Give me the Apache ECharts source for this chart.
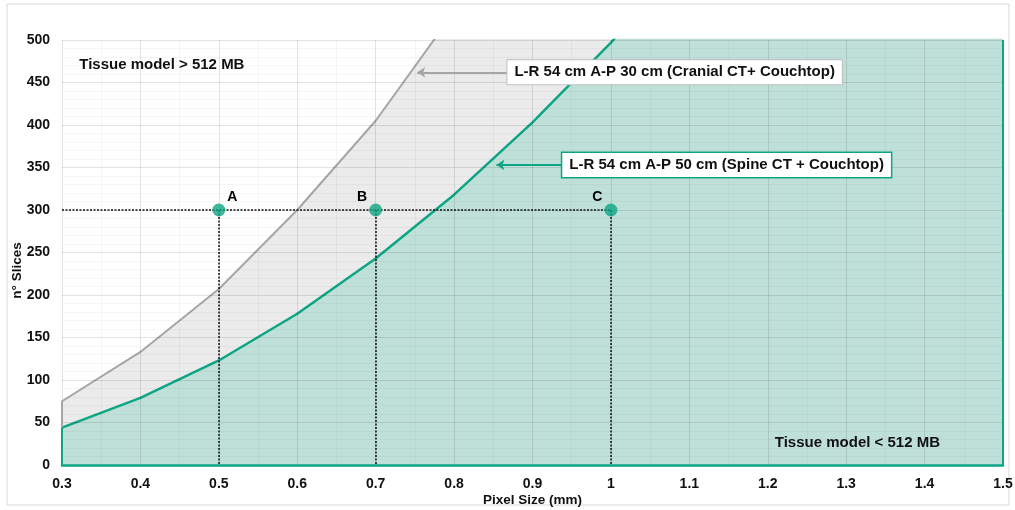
<!DOCTYPE html>
<html><head><meta charset="utf-8">
<script src="https://cdn.jsdelivr.net/npm/echarts@6/dist/echarts.min.js"></script>
<style>html,body{margin:0;padding:0;background:#fff}#c{width:1015px;height:510px}</style>
</head><body><div id="c"></div>
<script>
// ---- data ----
const pixelSizes    = [0.3, 0.4, 0.5, 0.6, 0.7, 0.8, 0.9, 1.0, 1.1, 1.2, 1.3, 1.4, 1.5];
const cranialSlices = [75, 133, 207, 300, 405, 533, 675, 833];
const spineSlices   = [44, 79, 123, 178, 243, 318, 403, 497, 600, 715, 840, 975, 1120];
const pointNames    = ['A', 'B', 'C'];
const pointSizes    = [0.5, 0.7, 1.0];
const pointSlices   = [300, 300, 300];
const cranialLabel  = 'L-R 54 cm A-P 30 cm (Cranial CT+ Couchtop)';
const spineLabel    = 'L-R 54 cm A-P 50 cm (Spine CT + Couchtop)';
const cranialArrow  = [[0.868, 462], [0.753, 462]];
const spineArrow    = [[0.938, 353], [0.854, 353]];
const regionLabels  = ['Tissue model > 512 MB', 'Tissue model < 512 MB'];
const regionAnchors = [[0.322, 471], [1.209, 26]];

const TEAL = '#0ea585', TEAL_FILL = '#bfe0d9', GRAY = '#a6a6a6', GRAY_FILL = '#ebebeb';
const FONT = '"Liberation Sans", Arial, sans-serif';
const xMin = pixelSizes[0], xMax = pixelSizes[pixelSizes.length - 1];

const chart = echarts.init(document.getElementById('c'));
const dotted = { color: '#111', width: 1.5, type: [2, 1.5] };

const option = {
  animation: false,
  grid: { left: 62, right: 12, top: 40, bottom: 45, containLabel: false, outerBoundsMode: 'none' },
  xAxis: {
    type: 'value', min: xMin, max: xMax, interval: 0.1, z: 3,
    name: 'Pixel Size (mm)', nameLocation: 'middle', nameGap: 28, nameMoveOverlap: false,
    nameTextStyle: { fontFamily: FONT, fontWeight: 'bold', fontSize: 13.5, color: '#111' },
    axisLine: { show: true, onZero: false, lineStyle: { color: TEAL, width: 2.5 } },
    axisTick: { show: false },
    axisLabel: { fontFamily: FONT, fontWeight: 'bold', fontSize: 14, color: '#111', margin: 12,
      formatter: v => String(Math.round(v * 10) / 10) },
    splitLine: { show: true, lineStyle: { color: 'rgba(0,0,0,0.11)', width: 1 } },
    minorTick: { show: false, splitNumber: 2 },
    minorSplitLine: { show: true, lineStyle: { color: 'rgba(0,0,0,0.035)', width: 1 } }
  },
  yAxis: {
    type: 'value', min: 0, max: 500, interval: 50, z: 3,
    name: 'n° Slices', nameLocation: 'middle', nameGap: 38, nameRotate: 90, nameMoveOverlap: false,
    nameTextStyle: { fontFamily: FONT, fontWeight: 'bold', fontSize: 13.5, color: '#111', padding: [0, 36, 0, 0] },
    axisLine: { show: false }, axisTick: { show: false },
    axisLabel: { fontFamily: FONT, fontWeight: 'bold', fontSize: 14, color: '#111', margin: 12 },
    splitLine: { show: true, lineStyle: { color: 'rgba(0,0,0,0.11)', width: 1 } },
    minorTick: { show: false, splitNumber: 5 },
    minorSplitLine: { show: true, lineStyle: { color: 'rgba(0,0,0,0.035)', width: 1 } }
  },
  series: [
    {
      name: 'cranial', type: 'line', z: 1, symbol: 'none', clip: true,
      data: cranialSlices.map((v, i) => [pixelSizes[i], v]),
      lineStyle: { color: GRAY, width: 2 },
      areaStyle: { color: GRAY_FILL, opacity: 1 },
      markLine: {
        silent: true, symbol: 'none', z: 5,
        lineStyle: { color: GRAY, width: 2, type: 'solid' }, label: { show: false },
        data: [
          [{ coord: cranialArrow[0], symbol: 'none' }, { coord: cranialArrow[1], symbol: 'arrow', symbolSize: 8 }],
          [{ coord: [xMin, spineSlices[0]] }, { coord: [xMin, cranialSlices[0]] }]
        ]
      }
    },
    {
      name: 'spine', type: 'line', z: 2, symbol: 'none', clip: true,
      data: spineSlices.map((v, i) => [pixelSizes[i], v]),
      lineStyle: { color: TEAL, width: 2.5 },
      areaStyle: { color: TEAL_FILL, opacity: 1 },
      markLine: {
        silent: true, symbol: 'none', z: 5,
        lineStyle: { color: TEAL, width: 2, type: 'solid' }, label: { show: false },
        data: [
          [{ coord: spineArrow[0], symbol: 'none' }, { coord: spineArrow[1], symbol: 'arrow', symbolSize: 8 }],
          [{ coord: [xMin, 0] }, { coord: [xMin, spineSlices[0]] }],
          [{ coord: [xMax, 0] }, { coord: [xMax, 500] }]
        ]
      }
    },
    {
      name: 'points', type: 'scatter', z: 10, symbolSize: 13,
      itemStyle: { color: TEAL },
      data: pointSizes.map((x, i) => ({
        value: [x, pointSlices[i]], name: pointNames[i],
        label: { show: true, formatter: pointNames[i], position: i === 0 ? 'right' : 'left',
          offset: i === 0 ? [-3, -13] : [3, -13],
          fontFamily: FONT, fontWeight: 'bold', fontSize: 14, color: '#000', opacity: 1 }
      })),
      markLine: {
        silent: true, symbol: 'none', z: 9, label: { show: false }, lineStyle: dotted,
        data: [[{ coord: [xMin, pointSlices[0]] }, { coord: [pointSizes[pointSizes.length - 1], pointSlices[0]] }]]
          .concat(pointSizes.map((x, i) => [{ coord: [x, pointSlices[i]] }, { coord: [x, 0] }]))
      }
    }
  ]
};
chart.setOption(option);

const p = c => chart.convertToPixel({ gridIndex: 0 }, c);
const textStyle = { fontFamily: FONT, fontWeight: 'bold', fontSize: 15, fill: '#111' };
const c1 = p(cranialArrow[0]), s1 = p(spineArrow[0]);
const r0 = p(regionAnchors[0]), r1 = p(regionAnchors[1]);
chart.setOption({
  graphic: [
    { type: 'rect', z: 0, shape: { x: 7, y: 4, width: 1002, height: 501 }, style: { fill: 'none', stroke: '#d9d9d9', lineWidth: 1 } },
    { type: 'text', z: 100, x: c1[0], y: c1[1], style: Object.assign({}, textStyle, {
      text: cranialLabel, align: 'left', verticalAlign: 'middle',
      backgroundColor: '#fff', borderColor: '#bfbfbf', borderWidth: 1, padding: [5, 7, 4, 7] }) },
    { type: 'text', z: 100, x: s1[0], y: s1[1], style: Object.assign({}, textStyle, {
      text: spineLabel, align: 'left', verticalAlign: 'middle',
      backgroundColor: '#fff', borderColor: TEAL, borderWidth: 1.5, padding: [5, 7, 4, 7] }) },
    { type: 'text', z: 100, x: r0[0], y: r0[1], style: Object.assign({}, textStyle, { text: regionLabels[0], verticalAlign: 'middle' }) },
    { type: 'text', z: 100, x: r1[0], y: r1[1], style: Object.assign({}, textStyle, { text: regionLabels[1], verticalAlign: 'middle' }) }
  ]
});
</script></body></html>
